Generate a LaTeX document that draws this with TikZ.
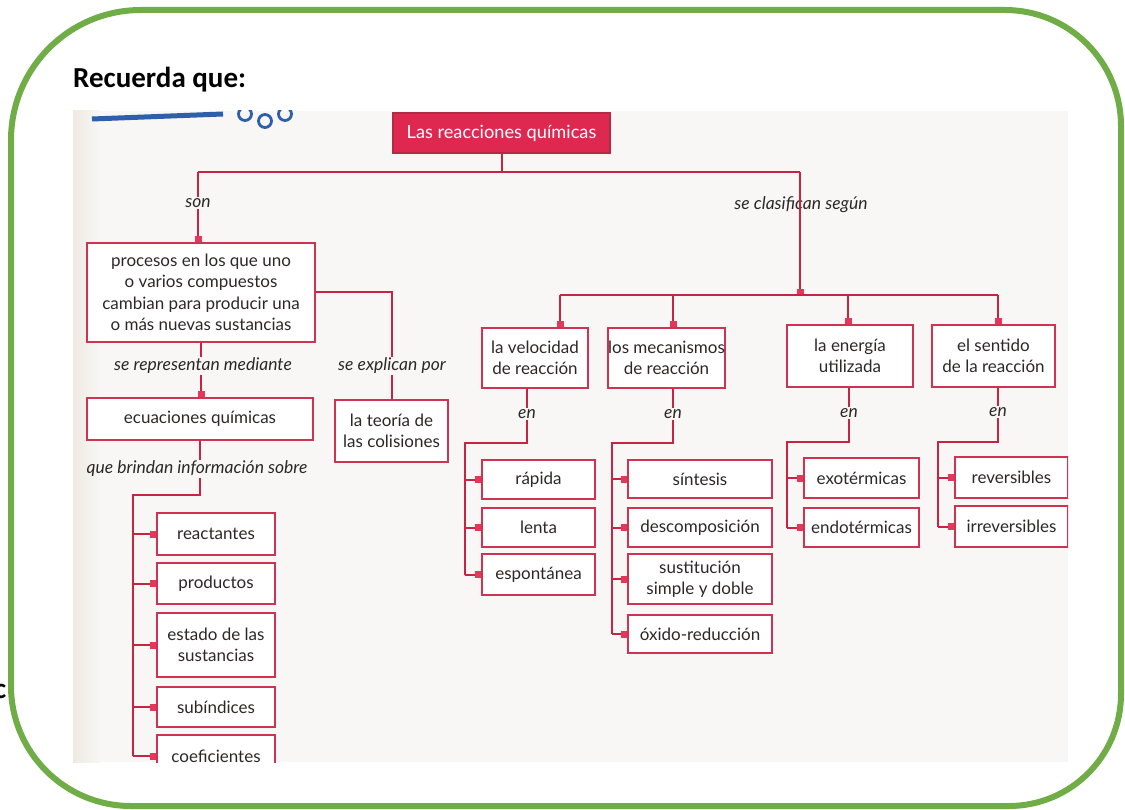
\documentclass[tikz,border=0pt]{standalone}
\usepackage{fontspec}
\setmainfont{Lato}
\newfontfamily\titlefont{Carlito}
\usetikzlibrary{arrows.meta}
\definecolor{frameg}{RGB}{112,173,71}
\definecolor{linered}{RGB}{200,35,65}
\definecolor{boxred}{RGB}{208,50,82}
\definecolor{headred}{RGB}{222,40,80}
\definecolor{mkred}{RGB}{228,55,90}
\definecolor{paper}{RGB}{248,247,245}
\definecolor{paperl}{RGB}{238,234,226}
\definecolor{ink}{RGB}{45,40,40}
\definecolor{bluedeco}{RGB}{45,95,170}
\tikzset{
  box/.style={draw=boxred, line width=2pt, fill=white, inner sep=0pt, align=center, text=ink,
    font=\fontsize{17}{21.5}\selectfont},
  head/.style={draw=boxred!85!black, line width=1.2pt, fill=headred, inner sep=0pt, text=white,
    font=\fontsize{18.2}{20}\selectfont},
  lbl/.style={font=\fontsize{17.5}{18}\selectfont\itshape, text=ink, inner sep=1pt},
  conn/.style={draw=linered, line width=2pt},
  mk/.style={-{Square[length=6pt,width=7pt,color=mkred]}},
  frame/.style={draw=frameg, line width=6pt},
}
\begin{document}
\begin{tikzpicture}[x=1pt,y=-1pt]
\useasboundingbox (0,0) rectangle (1125,810);
\fill[white] (0,0) rectangle (1125,810);
% photo background
\begin{scope}
\clip (73,111) rectangle (1068,762);
\fill[paper] (73,111) rectangle (1068,762);
\shade[left color=paperl, right color=paper] (73,111) rectangle (100,762);
\draw[bluedeco, line width=5pt] (92,119) -- (223,114);
\draw[bluedeco, line width=2.8pt] (245,114) circle (6.5);
\draw[bluedeco, line width=2.8pt] (265,121) circle (6.5);
\draw[bluedeco, line width=2.8pt] (285,114) circle (6.5);

% header
\node[head, minimum width=217, minimum height=40] (head) at (501.5,133) {Las reacciones químicas};
\coordinate (tbL) at (198,172);
\coordinate (tbR) at (800,172);
\draw[conn] (head.south) -- (head.south |- tbL);
\draw[conn] (tbL) -- (tbR);

% left part
\node[box, minimum width=228, minimum height=99] (proc) at (201,292.5)
  {procesos en los que uno\\o varios compuestos\\cambian para producir una\\o más nuevas sustancias};
\node[lbl] (son) at (198,203) {son};
\draw[conn] (tbL) -- (son.north);
\draw[conn,mk] (son.south) -- (son.south |- proc.north);

\node[box, minimum width=226, minimum height=42] (ecu) at (200,419) {ecuaciones químicas};
\node[lbl] (rep) at (203,366) {se representan mediante};
\draw[conn] (proc.south) -- (proc.south |- rep.north);
\draw[conn,mk] (proc.south |- rep.south) -- (proc.south |- ecu.north);

\node[box, minimum width=113, minimum height=62] (teo) at (391.5,431) {la teoría de\\las colisiones};
\node[lbl] (expl) at (392,366) {se explican por};
\draw[conn] (proc.east) -| (expl.north);
\draw[conn] (expl.south) -- (expl.south |- teo.north);

\node[lbl] (que) at (197,469) {que brindan información sobre};
\draw[conn] (ecu.south) -- (ecu.south |- que.north);
\coordinate (tL) at (133,495);
\node[box, minimum width=118, minimum height=42] (rea) at (216,534) {reactantes};
\node[box, minimum width=118, minimum height=41] (pro) at (216,583.5) {productos};
\node[box, minimum width=118, minimum height=64] (est) at (216,645) {estado de las\\sustancias};
\node[box, minimum width=118, minimum height=40] (sub) at (216,707) {subíndices};
\node[box, minimum width=118, minimum height=42] (coe) at (216,756) {coeficientes};
\draw[conn] (ecu.south |- que.south) |- (tL) -- (tL |- coe.west);
\foreach \n in {rea,pro,est,sub,coe}{
  \draw[conn,mk] (tL |- \n.west) -- (\n.west);
}

% right part
\node[lbl] (cla) at (801,205) {se clasifican según};
\coordinate (b1) at (560,295);
\coordinate (b2) at (673,295);
\coordinate (b3) at (848,295);
\coordinate (b4) at (998,295);
\coordinate (bR) at (800,295);
\draw[conn,mk] (tbR) -- (bR);
\draw[conn] (b1) -- (b4);

\node[box, minimum width=106, minimum height=60] (vel) at (535,358) {la velocidad\\de reacción};
\node[box, minimum width=111, minimum height=60] (mec) at (666.5,358) {los mecanismos\\de reacción};
\node[box, minimum width=126, minimum height=62] (ene) at (850,356) {la energía\\utilizada};
\node[box, minimum width=123, minimum height=62] (sen) at (993.5,356) {el sentido\\de la reacción};
\draw[conn,mk] (b1) -- (b1 |- vel.north);
\draw[conn,mk] (b2) -- (b2 |- mec.north);
\draw[conn,mk] (b3) -- (b3 |- ene.north);
\draw[conn,mk] (b4) -- (b4 |- sen.north);

% velocidad
\node[lbl] (en1) at (527,414) {en};
\coordinate (t1) at (465,443);
\node[box, minimum width=113, minimum height=39] (rap) at (538.5,479.5) {rápida};
\node[box, minimum width=113, minimum height=39] (len) at (538.5,527.5) {lenta};
\node[box, minimum width=113, minimum height=41] (esp) at (538.5,574.5) {espontánea};
\draw[conn] (en1 |- vel.south) -- (en1.north);
\draw[conn] (en1.south) |- (t1) -- (t1 |- esp.west);
\foreach \n in {rap,len,esp}{
  \draw[conn,mk] (t1 |- \n.west) -- (\n.west);
}

% mecanismos
\node[lbl] (en2) at (673,414) {en};
\coordinate (t2) at (612,443);
\node[box, minimum width=144, minimum height=38] (sin) at (700,479) {síntesis};
\node[box, minimum width=144, minimum height=39] (des) at (700,527.5) {descomposición};
\node[box, minimum width=144, minimum height=50] (sus) at (700,579) {sustitución\\simple y doble};
\node[box, minimum width=144, minimum height=38] (oxi) at (700,634) {óxido-reducción};
\draw[conn] (en2 |- mec.south) -- (en2.north);
\draw[conn] (en2.south) |- (t2) -- (t2 |- oxi.west);
\foreach \n in {sin,des,sus,oxi}{
  \draw[conn,mk] (t2 |- \n.west) -- (\n.west);
}

% energia
\node[lbl] (en3) at (849,413) {en};
\coordinate (t3) at (787,442);
\node[box, minimum width=115, minimum height=40] (exo) at (861.5,478) {exotérmicas};
\node[box, minimum width=115, minimum height=39] (endo) at (861.5,527.5) {endotérmicas};
\draw[conn] (en3 |- ene.south) -- (en3.north);
\draw[conn] (en3.south) |- (t3) -- (t3 |- endo.west);
\foreach \n in {exo,endo}{
  \draw[conn,mk] (t3 |- \n.west) -- (\n.west);
}

% sentido
\node[lbl] (en4) at (998,412) {en};
\coordinate (t4) at (938,442);
\node[box, minimum width=113, minimum height=41] (rev) at (1011.5,477.5) {reversibles};
\node[box, minimum width=113, minimum height=41] (irr) at (1011.5,526.5) {irreversibles};
\draw[conn] (en4 |- sen.south) -- (en4.north);
\draw[conn] (en4.south) |- (t4) -- (t4 |- irr.west);
\foreach \n in {rev,irr}{
  \draw[conn,mk] (t4 |- \n.west) -- (\n.west);
}
\end{scope}

% title
\node[anchor=base west, font=\titlefont\bfseries\fontsize{29}{32}\selectfont, inner sep=0pt] (rq) at (73,88) {Recuerda que:};
\node[anchor=base west, font=\titlefont\bfseries\fontsize{29}{32}\selectfont, inner sep=0pt] (frag) at (-6,698) {c};

% green frame
\draw[frame] (11,140) arc[start angle=180,end angle=270,radius=130] -- (1005,10)
  arc[start angle=270,end angle=360,radius=116] -- (1121,694)
  arc[start angle=0,end angle=90,radius=112] -- (131,806)
  arc[start angle=90,end angle=180,radius=120] -- cycle;
\end{tikzpicture}
\end{document}
